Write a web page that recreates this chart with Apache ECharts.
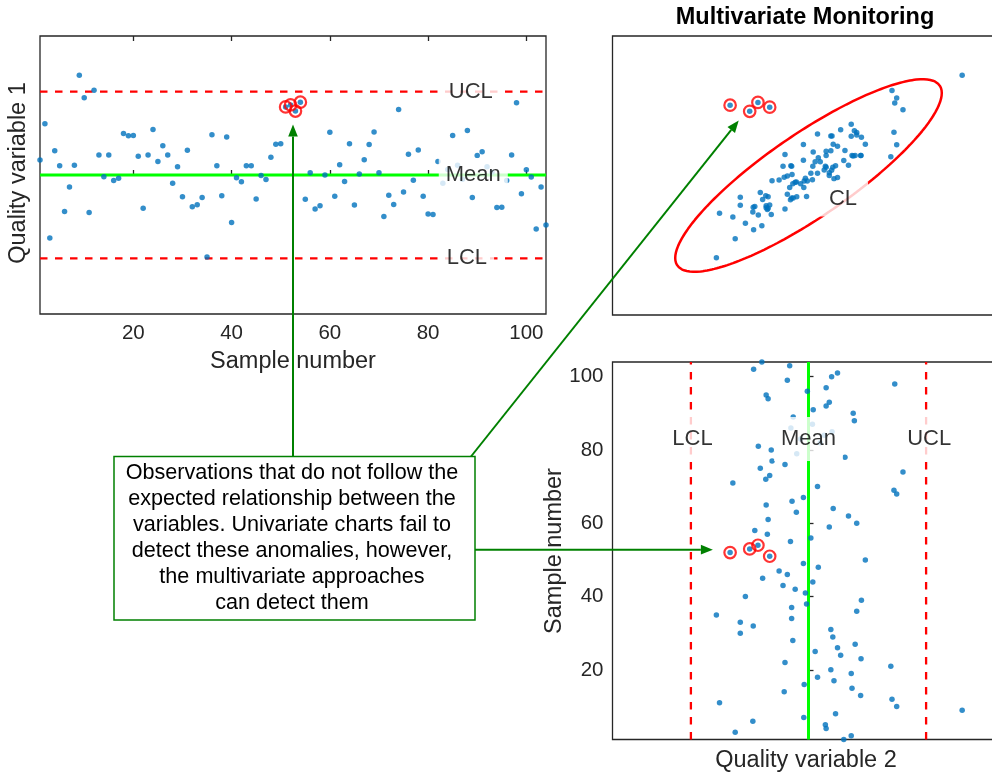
<!DOCTYPE html>
<html><head><meta charset="utf-8">
<script src="https://cdn.jsdelivr.net/npm/echarts@6/dist/echarts.min.js"></script>
<style>html,body{margin:0;padding:0;background:#fff;overflow:hidden}#c{width:1012px;height:776px}</style>
</head><body><div id="c"></div>
<script>
// ---------------- DATA ----------------
const sampleNumbers = [1,2,3,4,5,6,7,8,9,10,11,12,13,14,15,16,17,18,19,20,21,22,23,24,25,26,27,28,29,30,
  31,32,33,34,35,36,37,38,39,40,41,42,43,44,45,46,47,48,49,50,51,52,53,54,55,56,57,58,59,60,
  61,62,63,64,65,66,67,68,69,70,71,72,73,74,75,76,77,78,79,80,81,82,83,84,85,86,87,88,89,90,
  91,92,93,94,95,96,97,98,99,100,101,102,103,104];
const qualityVar1 = [0.54,1.84,-2.27,0.87,0.33,-1.31,-0.43,0.35,3.59,2.78,-1.35,3.05,0.72,-0.06,0.72,-0.20,-0.12,1.49,1.41,1.42,
  0.67,-1.20,0.72,1.64,0.49,1.05,0.72,-0.30,0.30,-0.78,0.89,-1.14,-1.07,-0.81,-2.95,1.45,0.33,-0.75,1.37,-1.71,
  -0.10,-0.24,0.33,0.33,-0.86,-0.02,-0.16,0.64,1.11,1.12,2.45,2.52,2.30,2.62,-0.87,0.08,-1.22,-1.11,0.00,1.54,
  -0.76,0.37,-0.23,1.12,-1.08,0.04,0.55,1.10,1.55,0.08,-1.49,-0.73,-1.06,2.36,-0.61,0.75,-0.19,0.90,-0.76,-1.40,
  -1.42,0.49,-0.30,0.20,1.42,0.35,-0.15,1.60,-0.81,0.70,0.84,0.30,0.10,-1.17,-1.16,-0.20,0.72,2.60,-0.67,0.19,
  -0.07,-1.94,-0.43,-1.80];
const qualityVar2 = [0.90,1.09,-1.87,0.45,0.43,-1.42,-0.12,0.69,3.92,2.25,-2.27,2.13,1.33,-0.62,1.11,-0.11,0.65,0.23,1.09,0.57,
  2.10,-0.60,1.34,0.82,0.17,0.74,1.19,-0.40,0.62,-1.74,0.57,-1.41,-1.74,-0.43,-2.35,1.23,-0.43,-0.05,1.35,-1.61,
  -0.08,-0.34,-0.65,0.11,-1.17,-0.54,-0.75,0.25,-0.13,1.45,-0.99,-2.00,-1.50,-1.29,-0.46,0.06,-1.05,-1.37,0.53,1.23,
  -1.03,1.02,-0.31,0.63,-1.08,-0.42,-0.13,2.25,2.18,0.23,-1.93,-1.09,-0.99,2.41,-1.23,-0.60,-0.93,0.93,-0.30,-0.95,
  -1.28,0.30,-0.20,0.40,0.60,-0.45,0.10,1.17,-0.39,1.14,0.12,0.45,0.53,-1.03,-1.08,-0.03,0.45,2.20,-0.54,0.59,
  0.74,-1.40,-0.48,-1.19];
const outlierSamples = [51,52,53,54];
const sampleTicks = [20,40,60,80,100];
const limitsVar1 = [-3, 0, 3];   // LCL, Mean, UCL
const limitsVar2 = [-3, 0, 3];   // LCL, Mean, UCL
const limitNames = ['LCL','Mean','UCL'];
// confidence-ellipse (control limit) parameters for the bivariate chart
const ellipseCenter = [0, 0];
const ellipseSd = [3.4, 3.45];
const ellipseRho = 0.857;
const annotationLines = ['Observations that do not follow the','expected relationship between the',
  'variables. Univariate charts fail to','detect these anomalies, however,','the multivariate approaches','can detect them'];

// ---------------- STYLE ----------------
const FONT = '"Liberation Sans", Arial, Helvetica, sans-serif';
const BLUE = '#0072BD', RED = '#FF0000', GREEN = '#00FF00', AX = '#262626', ARROW = '#008000';
const DASH = [7.5, 7.5];

const chart = echarts.init(document.getElementById('c'), null, {renderer: 'canvas'});

const sMin = sampleNumbers[0], sMax = sampleNumbers[sampleNumbers.length - 1];
const pts1 = sampleNumbers.map((s, i) => [s, qualityVar1[i]]);
const pts2 = sampleNumbers.map((s, i) => [qualityVar2[i], qualityVar1[i]]);
const pts3 = sampleNumbers.map((s, i) => [qualityVar2[i], s]);
const outIdx = outlierSamples.map(s => sampleNumbers.indexOf(s));
const pick = arr => outIdx.map(i => arr[i]);

const ellipsePts = [];
for (let k = 0; k <= 240; k++) {
  const t = 2 * Math.PI * k / 240;
  ellipsePts.push([
    ellipseCenter[0] + ellipseSd[0] * Math.cos(t),
    ellipseCenter[1] + ellipseSd[1] * (ellipseRho * Math.cos(t) + Math.sqrt(1 - ellipseRho * ellipseRho) * Math.sin(t))
  ]);
}

function dots(xi, yi, data) {
  return {type: 'scatter', xAxisIndex: xi, yAxisIndex: yi, data, symbol: 'circle', symbolSize: 5.5,
    itemStyle: {color: BLUE}, z: 5, silent: true, animation: false};
}
function rings(xi, yi, data) {
  return {type: 'scatter', xAxisIndex: xi, yAxisIndex: yi, data, symbol: 'circle', symbolSize: 11.5,
    itemStyle: {color: 'rgba(0,0,0,0)', borderColor: RED, borderWidth: 2.2}, z: 6, silent: true, animation: false};
}
function seg(xi, yi, data, color, width, type) {
  return {type: 'line', xAxisIndex: xi, yAxisIndex: yi, data, symbol: 'none', silent: true, z: 3,
    lineStyle: {color, width, type: type || 'solid'}, animation: false};
}
function labels(xi, yi, items, pad) {
  return {type: 'scatter', xAxisIndex: xi, yAxisIndex: yi, symbolSize: 1, silent: true, z: 10, zlevel: 1, animation: false,
    itemStyle: {color: 'rgba(0,0,0,0)'},
    data: items.map(it => ({value: it.v, label: {formatter: it.t}})),
    label: {show: true, position: 'inside', color: '#000', fontSize: 22, fontFamily: FONT,
      backgroundColor: '#fff', padding: pad}};
}

const hiddenAxis = (gi, min, max) => ({gridIndex: gi, type: 'value', min, max,
  axisLine: {show: false}, axisTick: {show: false}, axisLabel: {show: false}, splitLine: {show: false}});

const option = {
  animation: false,
  backgroundColor: '#fff',
  grid: [
    {left: 40, top: 36, width: 506, height: 278, show: true, borderColor: AX, borderWidth: 1.3},
    {left: 612.5, top: 36, width: 392, height: 279, show: true, borderColor: AX, borderWidth: 1.3},
    {left: 612.5, top: 362, width: 392, height: 377.5, show: true, borderColor: AX, borderWidth: 1.3}
  ],
  xAxis: [
    {gridIndex: 0, type: 'value', min: sMin, max: sMax, position: 'bottom',
      axisLine: {show: false}, splitLine: {show: false},
      axisTick: {show: true, inside: true, length: 5, customValues: sampleTicks, lineStyle: {color: AX, width: 1.3}},
      axisLabel: {show: true, customValues: sampleTicks, color: AX, fontSize: 20.5, fontFamily: FONT, margin: 9}},
    {gridIndex: 0, type: 'value', min: sMin, max: sMax, position: 'top',
      axisLine: {show: false}, splitLine: {show: false},
      axisTick: {show: true, inside: true, length: 5, customValues: sampleTicks, lineStyle: {color: AX, width: 1.3}},
      axisLabel: {show: false}},
    hiddenAxis(1, -5, 5),
    hiddenAxis(2, -5, 5)
  ],
  yAxis: [
    hiddenAxis(0, -5, 5),
    hiddenAxis(1, -5, 5),
    {gridIndex: 2, type: 'value', min: sMin, max: sMax,
      axisLine: {show: false}, splitLine: {show: false},
      axisTick: {show: true, inside: true, length: 5, customValues: sampleTicks, lineStyle: {color: AX, width: 1.3}},
      axisLabel: {show: true, customValues: sampleTicks, color: AX, fontSize: 20.5, fontFamily: FONT, margin: 9}}
  ],
  series: [
    // top-left: univariate chart of variable 1
    seg(0, 0, [[sMin, limitsVar1[2]], [sMax, limitsVar1[2]]], RED, 2.3, DASH),
    seg(0, 0, [[sMin, limitsVar1[0]], [sMax, limitsVar1[0]]], RED, 2.3, DASH),
    seg(0, 0, [[sMin, limitsVar1[1]], [sMax, limitsVar1[1]]], GREEN, 3),
    dots(0, 0, pts1),
    rings(0, 0, pick(pts1)),
    labels(0, 0, [{v: [88.7, limitsVar1[2]], t: limitNames[2]}, {v: [89.2, limitsVar1[1]], t: limitNames[1]}, {v: [87.9, limitsVar1[0]], t: limitNames[0]}], [6, 7]),
    // top-right: bivariate chart
    seg(2, 1, ellipsePts, RED, 2.5),
    dots(2, 1, pts2),
    rings(2, 1, pick(pts2)),
    labels(2, 1, [{v: [0.88, -0.84], t: 'CL'}], [6, 11, 7, 11]),
    // bottom-right: univariate chart of variable 2
    seg(3, 2, [[limitsVar2[0], sMin], [limitsVar2[0], sMax]], RED, 2.3, DASH),
    seg(3, 2, [[limitsVar2[2], sMin], [limitsVar2[2], sMax]], RED, 2.3, DASH),
    seg(3, 2, [[limitsVar2[1], sMin], [limitsVar2[1], sMax]], GREEN, 3),
    dots(3, 2, pts3),
    rings(3, 2, pick(pts3)),
    labels(3, 2, [{v: [limitsVar2[0] + 0.04, 83.0], t: limitNames[0]}, {v: [limitsVar2[1], 83.0], t: limitNames[1]}, {v: [limitsVar2[2] + 0.08, 83.0], t: limitNames[2]}], [8, 7, 14, 7])
  ]
};
chart.setOption(option);

// ---------------- ANNOTATIONS ----------------
const arrowTargets = {topLeft: [52.5, 1.82], topRight: [-1.78, 1.97], bottomRight: [-2.44, 52.8]};
const box = {x: 114, y: 456.5, w: 361, h: 163.5};
const t1 = chart.convertToPixel({xAxisIndex: 0, yAxisIndex: 0}, arrowTargets.topLeft);
const t2 = chart.convertToPixel({xAxisIndex: 2, yAxisIndex: 1}, arrowTargets.topRight);
const t3 = chart.convertToPixel({xAxisIndex: 3, yAxisIndex: 2}, arrowTargets.bottomRight);

function arrow(x1, y1, x2, y2) {
  const L = 12, W = 4.8;
  const dx = x2 - x1, dy = y2 - y1, len = Math.hypot(dx, dy), ux = dx / len, uy = dy / len;
  const bx = x2 - ux * L, by = y2 - uy * L;
  return [
    {type: 'line', silent: true, z: 100, shape: {x1, y1, x2: bx, y2: by}, style: {stroke: ARROW, lineWidth: 2}},
    {type: 'polygon', silent: true, z: 100, shape: {points: [[x2, y2], [bx - uy * W, by + ux * W], [bx + uy * W, by - ux * W]]}, style: {fill: ARROW}}
  ];
}
const txt = (x, y, text, size, extra) => ({type: 'text', x, y, silent: true, z: 90,
  style: Object.assign({text, fontSize: size, fontFamily: FONT, fill: AX, align: 'center', verticalAlign: 'middle'}, extra || {})});

const graphic = [
  txt(805, 18, 'Multivariate Monitoring', 23.5, {fontWeight: 'bold', fill: '#000'}),
  txt(293, 362, 'Sample number', 23.5),
  txt(806, 761, 'Quality variable 2', 23.5),
  Object.assign(txt(19, 173, 'Quality variable 1', 23.5), {rotation: Math.PI / 2}),
  Object.assign(txt(555, 551, 'Sample number', 23.5), {rotation: Math.PI / 2}),
  {type: 'rect', silent: true, z: 95, shape: {x: box.x, y: box.y, width: box.w, height: box.h},
    style: {fill: '#fff', stroke: ARROW, lineWidth: 1.5}},
  {type: 'text', silent: true, z: 96, x: box.x + box.w / 2 - 2.5, y: box.y + box.h / 2,
    style: {text: annotationLines.join('\n'), fontSize: 21.6, lineHeight: 26, fontFamily: FONT, fill: '#000',
      align: 'center', verticalAlign: 'middle'}},
  ...arrow(t1[0], box.y, t1[0], t1[1]),
  ...arrow(box.x + box.w - 4, box.y, t2[0], t2[1]),
  ...arrow(box.x + box.w, t3[1], t3[0], t3[1])
];
chart.setOption({graphic});
</script>
</body></html>
